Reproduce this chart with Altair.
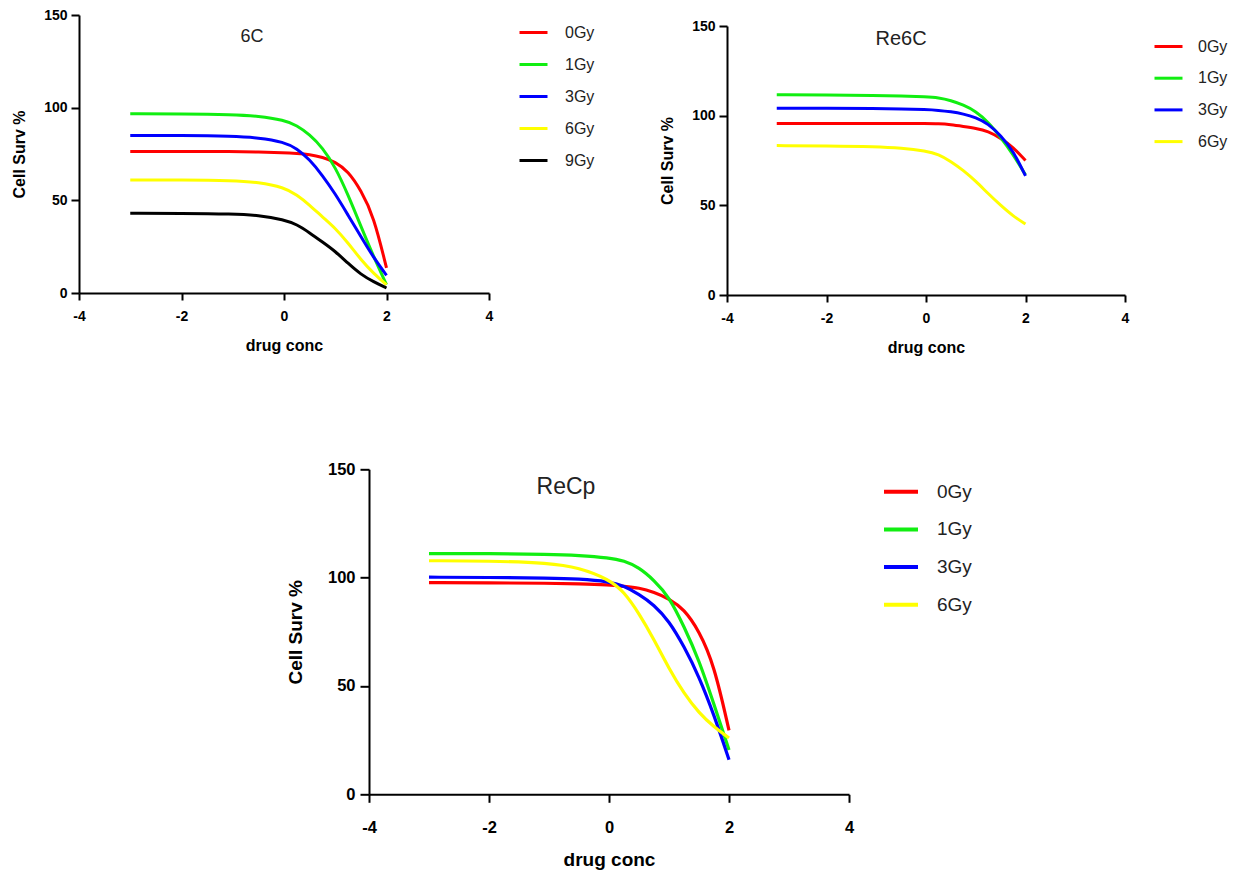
import altair as alt
import pandas as pd

# ---------------- data ----------------
X_CONC = [-3, -2, -1, -0.5, 0, 0.25, 0.5, 0.75, 1, 1.25, 1.5, 1.75, 2]

DOSES_5 = ["0Gy", "1Gy", "3Gy", "6Gy", "9Gy"]
DOSES_4 = ["0Gy", "1Gy", "3Gy", "6Gy"]
COLORS = ["#ff0000", "#11ee11", "#0000ff", "#ffff00", "#000000"]

# panel "6C"
C6_0GY = [76.4, 76.4, 76.3, 76.1, 75.7, 75.3, 74.8, 73.3, 70.8, 65.7, 55.5, 41.5, 13.5]
C6_1GY = [96.7, 96.7, 96.3, 95.5, 93.3, 90.5, 85.5, 78.5, 68.0, 53.0, 36.0, 19.5, 4.5]
C6_3GY = [85.0, 85.0, 84.6, 83.8, 81.5, 78.0, 72.0, 63.5, 53.5, 42.0, 30.5, 19.0, 9.5]
C6_6GY = [61.0, 61.0, 60.7, 59.8, 57.0, 53.0, 47.5, 41.0, 35.0, 27.0, 18.0, 10.5, 4.5]
C6_9GY = [43.0, 43.0, 42.7, 42.0, 39.6, 37.0, 32.5, 27.5, 22.5, 16.0, 10.0, 6.0, 2.7]

# panel "Re6C"
RE6C_0GY = [95.7, 95.7, 95.7, 95.7, 95.6, 95.5, 95.0, 94.0, 93.0, 91.3, 87.5, 82.5, 75.0]
RE6C_1GY = [111.7, 111.6, 111.3, 111.0, 110.5, 110.0, 108.5, 106.0, 102.5, 96.5, 88.0, 78.5, 67.0]
RE6C_3GY = [104.1, 104.1, 104.0, 103.8, 103.4, 103.0, 102.2, 101.0, 99.0, 95.5, 89.0, 80.5, 66.4]
RE6C_6GY = [83.3, 83.2, 82.8, 82.0, 80.3, 78.5, 74.5, 69.5, 63.5, 56.5, 50.0, 44.0, 39.6]

# panel "ReCp"
RECP_0GY = [97.7, 97.6, 97.4, 97.2, 96.7, 96.0, 95.3, 93.3, 90.3, 85.5, 75.5, 60.0, 29.5]
RECP_1GY = [111.1, 111.1, 110.8, 110.3, 109.2, 107.8, 104.7, 98.8, 91.3, 77.5, 62.0, 41.5, 20.5]
RECP_3GY = [100.2, 100.1, 99.8, 99.4, 98.2, 96.2, 92.3, 87.5, 80.0, 68.3, 54.4, 36.7, 16.0]
RECP_6GY = [107.8, 107.7, 106.8, 104.6, 99.2, 93.5, 83.5, 71.5, 58.0, 46.5, 37.5, 31.0, 26.0]

X_TICKS = [-4, -2, 0, 2, 4]
Y_TICKS = [0, 50, 100, 150]

FONT = "Liberation Sans"


def frame(doses, series):
    rows = []
    for d, vals in zip(doses, series):
        for x, v in zip(X_CONC, vals):
            rows.append({"conc": x, "surv": v, "dose": d})
    return pd.DataFrame(rows)


def panel(name, doses, series, w, h, s, leg, ttl):
    """s: dict of style sizes; leg: (legendX, legendY, symW, offset, font, stroke, rowpad);
    ttl: (x, y, fontSize)"""
    df = frame(doses, series)
    axis_common = dict(
        domainColor="black", domainWidth=2, tickColor="black", tickWidth=2,
        grid=False, labelFont=FONT, labelFontWeight="bold", labelColor="black",
        titleFont=FONT, titleFontWeight="bold", titleColor="black",
        labelExpr="'' + datum.value",
    )
    lines = alt.Chart(df).mark_line(strokeWidth=s["lw"], interpolate="basis").encode(
        x=alt.X("conc:Q", scale=alt.Scale(domain=[-4, 4], nice=False),
                axis=alt.Axis(values=X_TICKS, title="drug conc", tickSize=s["xtick"],
                              labelFontSize=s["lab"], titleFontSize=s["tit"],
                              labelPadding=s["xlp"], titlePadding=s["xtp"],
                              labelFlush=False, **axis_common)),
        y=alt.Y("surv:Q", scale=alt.Scale(domain=[0, 150], nice=False),
                axis=alt.Axis(values=Y_TICKS, title="Cell Surv %", tickSize=s["ytick"],
                              labelFontSize=s["lab"], titleFontSize=s["tit"],
                              labelPadding=s["ylp"], titlePadding=s["ytp"],
                              **axis_common)),
        color=alt.Color("dose:N", scale=alt.Scale(domain=doses, range=COLORS[:len(doses)]),
                        legend=alt.Legend(title=None, orient="none",
                                          legendX=leg[0], legendY=leg[1],
                                          symbolType="stroke", symbolSize=leg[2] ** 2,
                                          symbolStrokeWidth=leg[5], labelOffset=leg[3],
                                          labelFont=FONT, labelFontSize=leg[4],
                                          labelColor="#222222", rowPadding=leg[6],
                                          padding=0)),
    )
    title = alt.Chart(pd.DataFrame({"t": [name]})).mark_text(
        font=FONT, fontSize=ttl[2], color="#222222", align="center", baseline="middle"
    ).encode(text="t:N", x=alt.value(ttl[0]), y=alt.value(ttl[1]))
    return alt.layer(lines, title).properties(width=w, height=h)


def spacer(w, h):
    return alt.Chart(pd.DataFrame({"a": [0]})).mark_point(opacity=0).properties(width=w, height=h)


small = dict(lw=3, xtick=7, ytick=8, lab=14, tit=16, xlp=9, xtp=14, ylp=4, ytp=16)
big = dict(lw=3.2, xtick=8, ytick=9, lab=16.5, tit=19, xlp=17, xtp=15, ylp=5, ytp=22)

p1 = panel("6C", DOSES_5, [C6_0GY, C6_1GY, C6_3GY, C6_6GY, C6_9GY], 410, 278, small,
           (439, 2, 28, 16, 16, 3, 8), (173, 22, 18))
p2 = panel("Re6C", DOSES_4, [RE6C_0GY, RE6C_1GY, RE6C_3GY, RE6C_6GY], 398, 269, small,
           (426, 5, 28, 14, 16, 3, 7.7), (174, 13, 20))
p3 = panel("ReCp", DOSES_4, [RECP_0GY, RECP_1GY, RECP_3GY, RECP_6GY], 480, 325, big,
           (513, 3.4, 34, 17, 19, 4, 8.7), (197, 18, 23))

row1 = alt.hconcat(
    p1,
    alt.vconcat(spacer(1, 11), p2, spacing=0, bounds="flush").resolve_scale(color="independent"),
    spacing=238, bounds="flush",
).resolve_scale(color="independent").resolve_legend(color="independent")
row2 = alt.hconcat(spacer(290, 1), p3, spacing=0, bounds="flush").resolve_scale(color="independent")

chart = alt.vconcat(row1, row2, spacing=454.3, bounds="flush").resolve_scale(
    color="independent"
).resolve_legend(color="independent").properties(
    padding={"left": 3, "top": -1, "right": 0, "bottom": 0}
).configure_view(stroke="transparent")

chart.save("out.html", embed_options={"renderer": "svg", "actions": False})
